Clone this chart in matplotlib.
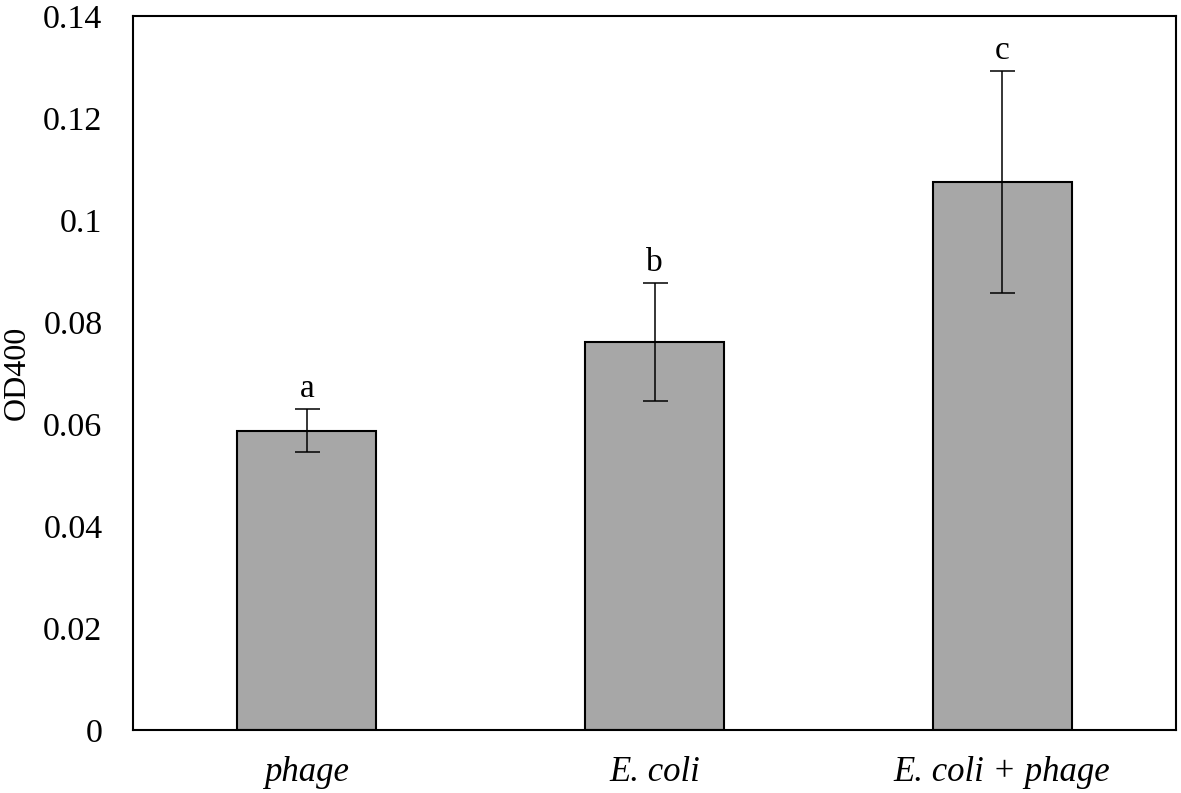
import numpy as np
import matplotlib
matplotlib.use("Agg")
import matplotlib.pyplot as plt

groups = ["phage", "E. coli", "E. coli + phage"]
od400 = [0.0587, 0.0761, 0.1075]
err = [0.0042, 0.0115, 0.0218]
letters = ["a", "b", "c"]
yticks = [0, 0.02, 0.04, 0.06, 0.08, 0.1, 0.12, 0.14]
ytick_labels = ["0", "0.02", "0.04", "0.06", "0.08", "0.1", "0.12", "0.14"]

plt.rcParams['font.family'] = ['Liberation Serif', 'DejaVu Serif']

fig = plt.figure(figsize=(11.81, 7.93), dpi=100)
ax = fig.add_axes([0.1126, 0.0794, 0.9958 - 0.1126, 0.9798 - 0.0794])

x = np.arange(len(groups))
ax.bar(x, od400, width=0.4, color='#a7a7a7', edgecolor='black', linewidth=1.5, zorder=2)
ax.errorbar(x, od400, yerr=err, fmt='none', ecolor='black', elinewidth=1.1,
            capsize=9, capthick=1.1, zorder=3)

for xi, v, e, lab in zip(x, od400, err, letters):
    ax.annotate(lab, (xi, v + e), xytext=(0, 8.5), textcoords='offset points',
                ha='center', va='baseline', fontsize=24)

ax.set_xlim(-0.5, 2.5)
ax.set_ylim(0, 0.14)
ax.set_yticks(yticks)
ax.set_yticklabels(ytick_labels)
ax.set_xticks(x)
ax.set_xticklabels(groups, fontstyle='italic')
ax.tick_params(axis='y', length=0, pad=22, labelsize=24.5)
ax.tick_params(axis='x', length=0, pad=19, labelsize=25)
ax.set_ylabel("OD400", fontsize=23, labelpad=8)

for s in ax.spines.values():
    s.set_linewidth(1.5)

fig.savefig("out.png", dpi=100)
